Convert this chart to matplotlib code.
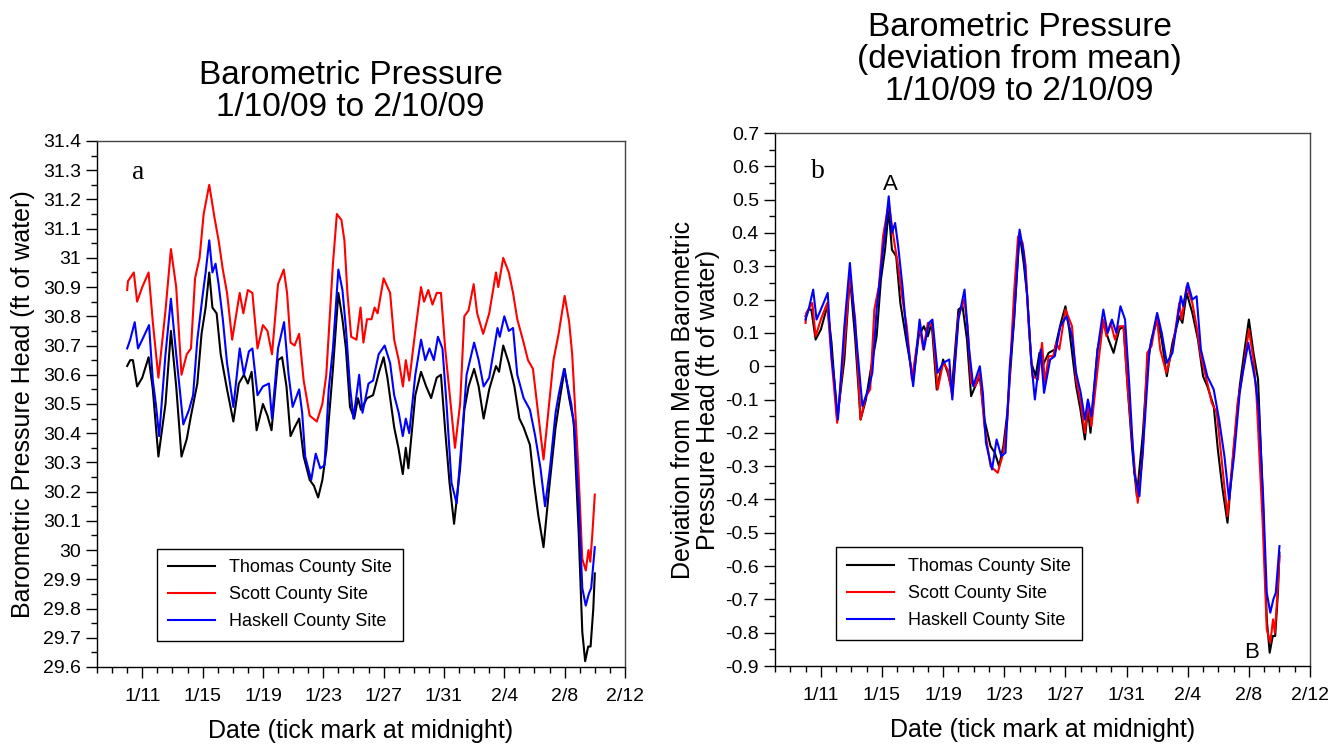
import numpy as np
import matplotlib.pyplot as plt
from matplotlib.ticker import MultipleLocator, FixedLocator, FuncFormatter

plt.rcParams['font.family'] = ['Liberation Sans', 'DejaVu Sans']

# day numbers count from Jan 0 (Jan 11 = 11, Feb 4 = 35, Feb 12 = 43)
tick_days = [11, 15, 19, 23, 27, 31, 35, 39, 43]
tick_labels = ['1/11', '1/15', '1/19', '1/23', '1/27', '1/31', '2/4', '2/8', '2/12']

# Thomas County Site (ft of water)
thomas_days = [10.0, 10.2, 10.38, 10.66, 11.0, 11.42, 11.7, 12.07, 12.54, 12.9, 13.25, 13.6,
               13.95, 14.23, 14.65, 14.93, 15.2, 15.44, 15.65, 15.93, 16.2, 16.34, 16.62, 17.04,
               17.4, 17.74, 18.0, 18.25, 18.58, 19.0, 19.3, 19.57, 20.0, 20.27, 20.56, 20.83,
               21.1, 21.4, 21.7, 22.1, 22.38, 22.66, 22.94, 23.2, 23.64, 24.0, 24.27, 24.5,
               24.77, 25.05, 25.3, 25.5, 25.9, 26.3, 26.7, 27.0, 27.25, 27.7, 27.98, 28.27,
               28.47, 28.64, 29.1, 29.48, 29.82, 30.15, 30.52, 30.8, 31.08, 31.37, 31.67, 32.07,
               32.35, 32.63, 33.0, 33.3, 33.63, 34.0, 34.45, 34.65, 34.93, 35.3, 35.67, 36.0,
               36.28, 36.7, 36.97, 37.25, 37.6, 37.97, 38.4, 38.69, 39.0, 39.3, 39.6, 39.93,
               40.17, 40.36, 40.56, 40.72, 40.9, 41.0]
thomas_vals = [30.63, 30.65, 30.65, 30.56, 30.59, 30.66, 30.55, 30.32, 30.50, 30.75, 30.56, 30.32,
               30.38, 30.46, 30.57, 30.74, 30.83, 30.95, 30.83, 30.81, 30.67, 30.63, 30.55, 30.44,
               30.57, 30.60, 30.57, 30.61, 30.41, 30.50, 30.46, 30.41, 30.65, 30.66, 30.56, 30.39,
               30.42, 30.45, 30.32, 30.24, 30.22, 30.18, 30.24, 30.34, 30.62, 30.88, 30.79, 30.69,
               30.49, 30.45, 30.52, 30.48, 30.52, 30.53, 30.61, 30.66, 30.59, 30.42, 30.35, 30.26,
               30.35, 30.28, 30.53, 30.61, 30.56, 30.52, 30.59, 30.60, 30.41, 30.23, 30.09, 30.28,
               30.48, 30.56, 30.62, 30.56, 30.45, 30.55, 30.63, 30.61, 30.70, 30.64, 30.56, 30.45,
               30.42, 30.36, 30.23, 30.12, 30.01, 30.21, 30.42, 30.52, 30.62, 30.52, 30.44, 30.06,
               29.72, 29.62, 29.67, 29.67, 29.80, 29.92]

# Scott County Site
scott_days = [10.0, 10.05, 10.44, 10.66, 11.0, 11.42, 11.7, 12.07, 12.54, 12.9, 13.25, 13.6,
              13.95, 14.23, 14.5, 14.8, 15.07, 15.44, 15.78, 16.06, 16.34, 16.62, 16.96, 17.46,
              17.7, 18.0, 18.3, 18.64, 19.0, 19.3, 19.6, 20.0, 20.38, 20.6, 20.83, 21.1,
              21.4, 21.7, 22.1, 22.57, 22.94, 23.2, 23.64, 23.9, 24.2, 24.4, 24.6, 24.85,
              25.2, 25.47, 25.66, 25.9, 26.2, 26.4, 26.6, 27.0, 27.43, 27.7, 28.0, 28.28,
              28.47, 28.7, 29.1, 29.48, 29.68, 29.96, 30.24, 30.52, 30.8, 31.08, 31.73, 32.07,
              32.35, 32.63, 32.97, 33.2, 33.6, 34.0, 34.45, 34.6, 34.93, 35.3, 35.58, 35.86,
              36.28, 36.57, 36.9, 37.6, 37.97, 38.26, 38.6, 39.0, 39.3, 39.5, 39.9, 40.17,
              40.4, 40.58, 40.7, 40.83, 41.0]
scott_vals = [30.89, 30.92, 30.95, 30.85, 30.90, 30.95, 30.78, 30.59, 30.82, 31.03, 30.90, 30.60,
              30.67, 30.69, 30.93, 31.00, 31.15, 31.25, 31.14, 31.06, 30.96, 30.88, 30.72, 30.88,
              30.81, 30.89, 30.88, 30.69, 30.77, 30.75, 30.67, 30.91, 30.96, 30.88, 30.71, 30.70,
              30.74, 30.58, 30.46, 30.44, 30.50, 30.60, 30.98, 31.15, 31.13, 31.06, 30.88, 30.73,
              30.72, 30.83, 30.71, 30.79, 30.79, 30.83, 30.81, 30.93, 30.88, 30.72, 30.65, 30.56,
              30.65, 30.58, 30.75, 30.90, 30.85, 30.89, 30.84, 30.88, 30.88, 30.69, 30.35, 30.50,
              30.80, 30.82, 30.91, 30.81, 30.74, 30.81, 30.95, 30.90, 31.00, 30.95, 30.88, 30.79,
              30.71, 30.65, 30.62, 30.31, 30.50, 30.65, 30.74, 30.87, 30.78, 30.67, 30.29, 29.97,
              29.93, 30.00, 29.96, 30.05, 30.19]

# Haskell County Site
haskell_days = [10.0, 10.2, 10.5, 10.72, 11.0, 11.45, 11.7, 11.9, 12.12, 12.54, 12.9, 13.25,
                13.72, 14.1, 14.37, 14.65, 15.0, 15.2, 15.44, 15.65, 15.86, 16.06, 16.34, 16.62,
                17.04, 17.46, 17.74, 18.07, 18.3, 18.64, 19.0, 19.4, 19.6, 20.0, 20.4, 20.7,
                20.97, 21.4, 21.6, 21.8, 22.2, 22.5, 22.8, 23.08, 23.36, 23.64, 24.0, 24.27,
                24.5, 24.77, 25.0, 25.38, 25.6, 26.0, 26.3, 26.67, 27.07, 27.43, 27.7, 28.0,
                28.27, 28.47, 28.7, 29.1, 29.48, 29.76, 30.04, 30.33, 30.6, 30.9, 31.17, 31.5,
                31.84, 32.2, 32.5, 33.0, 33.3, 33.63, 34.0, 34.55, 34.7, 35.0, 35.3, 35.58,
                35.86, 36.28, 36.7, 37.05, 37.4, 37.7, 38.03, 38.4, 38.6, 38.96, 39.24, 39.44,
                39.66, 39.93, 40.17, 40.4, 40.6, 40.76, 41.0]
haskell_vals = [30.69, 30.72, 30.78, 30.69, 30.72, 30.77, 30.58, 30.50, 30.39, 30.67, 30.86, 30.67,
                30.43, 30.48, 30.53, 30.72, 30.87, 30.95, 31.06, 30.95, 30.98, 30.91, 30.79, 30.64,
                30.49, 30.69, 30.60, 30.68, 30.69, 30.53, 30.56, 30.57, 30.45, 30.69, 30.78, 30.60,
                30.49, 30.55, 30.47, 30.32, 30.24, 30.33, 30.28, 30.29, 30.55, 30.69, 30.96, 30.89,
                30.76, 30.56, 30.45, 30.60, 30.47, 30.57, 30.58, 30.67, 30.70, 30.64, 30.53, 30.47,
                30.39, 30.45, 30.40, 30.60, 30.72, 30.65, 30.69, 30.65, 30.73, 30.69, 30.50, 30.23,
                30.16, 30.39, 30.60, 30.71, 30.65, 30.56, 30.59, 30.76, 30.73, 30.80, 30.75, 30.76,
                30.60, 30.52, 30.48, 30.39, 30.28, 30.15, 30.28, 30.47, 30.53, 30.62, 30.55, 30.50,
                30.41, 30.16, 29.87, 29.81, 29.85, 29.87, 30.01]

# record means (ft of water) used for panel b
thomas_mean = 30.48
scott_mean = 30.76
haskell_mean = 30.55

series = [
    ('Thomas County Site', thomas_days, thomas_vals, thomas_mean, 'black'),
    ('Scott County Site', scott_days, scott_vals, scott_mean, '#ff0000'),
    ('Haskell County Site', haskell_days, haskell_vals, haskell_mean, '#0000ff'),
]


def fmt(v, pos):
    s = f'{round(v, 2):g}'
    return '0' if s in ('-0', '0') else s


def style_axes(ax, ymin, ymax):
    ax.set_xlim(8, 43)
    ax.set_ylim(ymin, ymax)
    ax.xaxis.set_major_locator(FixedLocator(tick_days))
    ax.set_xticklabels(tick_labels)
    ax.xaxis.set_minor_locator(MultipleLocator(1))
    ax.yaxis.set_major_locator(MultipleLocator(0.1))
    ax.yaxis.set_minor_locator(MultipleLocator(0.05))
    ax.yaxis.set_major_formatter(FuncFormatter(fmt))
    ax.tick_params(which='both', direction='out', top=False, right=False, labelsize=14)
    ax.tick_params(which='major', length=8, width=1)
    ax.tick_params(which='minor', length=4, width=1)
    ax.tick_params(axis='x', pad=7)
    for sp in ax.spines.values():
        sp.set_linewidth(1)
    for side in ('top', 'right'):
        ax.spines[side].set_color('#444444')
    ax.set_xlabel('Date (tick mark at midnight)', fontsize=18, labelpad=10)
    leg = ax.legend(loc='lower left', bbox_to_anchor=(0.097, 0.032), fontsize=13,
                    frameon=True, fancybox=False, edgecolor='black', framealpha=1,
                    handlelength=2.6, borderpad=0.6, labelspacing=0.55)
    leg.get_frame().set_linewidth(1)


fig = plt.figure(figsize=(13.38, 7.49), dpi=100)
ax1 = fig.add_axes([0.0725, 0.1095, 0.3946, 0.7023])
ax2 = fig.add_axes([0.5792, 0.1108, 0.3999, 0.7116])

for name, d, v, m, c in series:
    ax1.plot(d, v, color=c, lw=1.5, label=name)
    ax2.plot(d, np.array(v) - m, color=c, lw=1.5, label=name)

style_axes(ax1, 29.6, 31.4)
style_axes(ax2, -0.9, 0.7)

ax1.set_ylabel('Barometric Pressure Head (ft of water)', fontsize=18, labelpad=6)
ax2.set_ylabel('Deviation from Mean Barometric\nPressure Head (ft of water)', fontsize=18,
               labelpad=4, linespacing=1.05)

ax1.text(0.078, 0.94, 'a', transform=ax1.transAxes, fontsize=20,
         family='Liberation Serif', ha='center', va='center')
ax2.text(0.08, 0.927, 'b', transform=ax2.transAxes, fontsize=20,
         family='Liberation Serif', ha='center', va='center')
ax2.text(15.55, 0.545, 'A', fontsize=16, ha='center', va='center')
ax2.text(39.2, -0.86, 'B', fontsize=16, ha='center', va='center')

fig.text(0.262, 0.92, 'Barometric Pressure\n1/10/09 to 2/10/09', fontsize=24,
         ha='center', va='top', linespacing=1.05)
fig.text(0.762, 0.984, 'Barometric Pressure\n(deviation from mean)\n1/10/09 to 2/10/09',
         fontsize=24, ha='center', va='top', linespacing=1.05)

fig.savefig('out.png', dpi=100)
